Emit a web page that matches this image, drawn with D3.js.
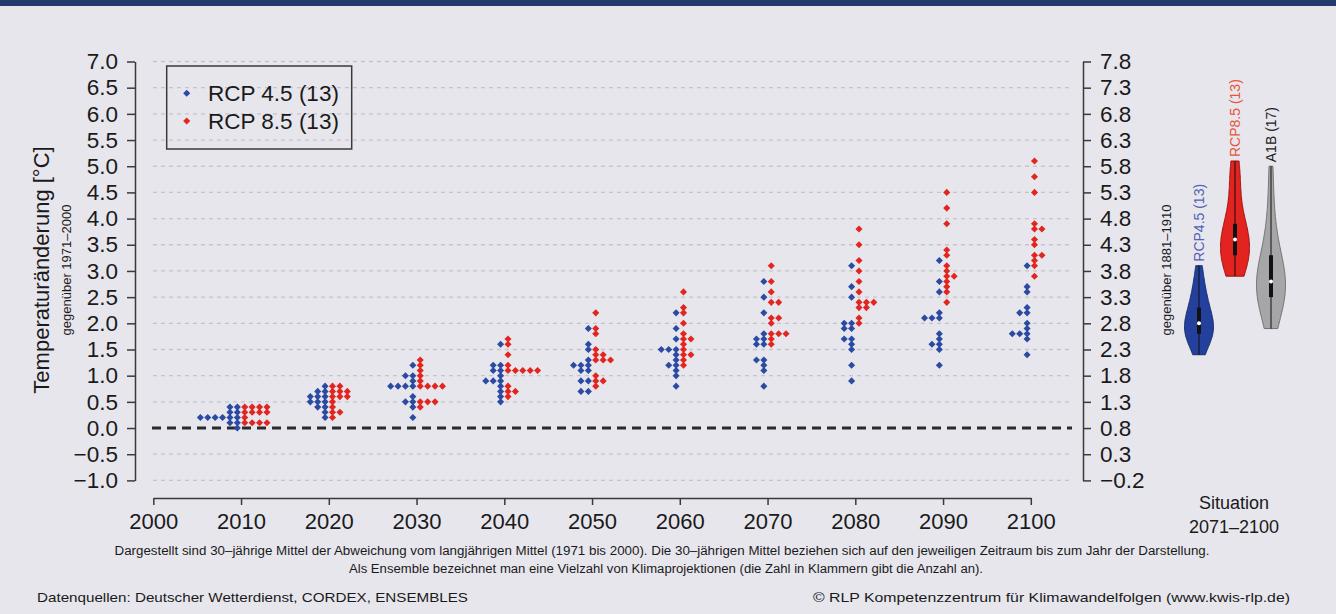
<!DOCTYPE html>
<html>
<head>
<meta charset="utf-8">
<script src="https://cdn.jsdelivr.net/npm/d3@7"></script>
<style>
  body { margin: 0; background: #e7e6ed; }
  svg { display: block; font-family: "Liberation Sans", Arial, Helvetica, sans-serif; }
</style>
</head>
<body>
<svg id="chart"></svg>
<script>
// decades shown on the x axis (30-year means ending in that year)
var years = [2010, 2020, 2030, 2040, 2050, 2060, 2070, 2080, 2090, 2100];

// RCP 4.5, 13 models per decade
var rcp45 = [
  [0.4, 0.4, 0.3, 0.3, 0.2, 0.2, 0.2, 0.2, 0.2, 0.2, 0.1, 0.1, 0.0],
  [0.8, 0.7, 0.7, 0.6, 0.6, 0.6, 0.5, 0.5, 0.5, 0.4, 0.4, 0.3, 0.2],
  [1.2, 1.0, 1.0, 0.9, 0.8, 0.8, 0.8, 0.8, 0.6, 0.5, 0.5, 0.4, 0.2],
  [1.6, 1.2, 1.2, 1.1, 1.1, 1.0, 0.9, 0.9, 0.9, 0.8, 0.7, 0.6, 0.5],
  [1.9, 1.6, 1.5, 1.3, 1.2, 1.2, 1.2, 1.1, 1.1, 0.9, 0.9, 0.7, 0.7],
  [2.2, 1.9, 1.7, 1.5, 1.5, 1.5, 1.4, 1.3, 1.2, 1.2, 1.1, 1.0, 0.8],
  [2.8, 2.5, 2.2, 1.8, 1.7, 1.7, 1.6, 1.6, 1.3, 1.3, 1.2, 1.1, 0.8],
  [3.1, 2.7, 2.5, 2.0, 2.0, 1.9, 1.9, 1.7, 1.7, 1.6, 1.5, 1.2, 0.9],
  [3.2, 2.8, 2.6, 2.2, 2.1, 2.1, 2.1, 1.8, 1.7, 1.6, 1.6, 1.5, 1.2],
  [3.1, 2.7, 2.6, 2.3, 2.2, 2.2, 2.0, 1.9, 1.8, 1.8, 1.8, 1.7, 1.4]
];

// RCP 8.5, 13 models per decade
var rcp85 = [
  [0.4, 0.4, 0.4, 0.4, 0.3, 0.3, 0.3, 0.3, 0.2, 0.1, 0.1, 0.1, 0.1],
  [0.8, 0.8, 0.7, 0.7, 0.7, 0.6, 0.6, 0.6, 0.5, 0.4, 0.3, 0.3, 0.2],
  [1.3, 1.2, 1.1, 1.0, 0.9, 0.8, 0.8, 0.8, 0.8, 0.5, 0.5, 0.5, 0.4],
  [1.7, 1.6, 1.4, 1.2, 1.1, 1.1, 1.1, 1.1, 1.1, 0.8, 0.7, 0.7, 0.6],
  [2.2, 1.9, 1.8, 1.5, 1.4, 1.4, 1.3, 1.3, 1.3, 1.0, 0.9, 0.9, 0.8],
  [2.6, 2.3, 2.2, 2.0, 1.8, 1.7, 1.7, 1.6, 1.5, 1.4, 1.4, 1.3, 1.2],
  [3.1, 2.8, 2.6, 2.4, 2.4, 2.1, 2.1, 2.0, 1.8, 1.8, 1.8, 1.7, 1.6],
  [3.8, 3.5, 3.2, 3.0, 2.8, 2.6, 2.4, 2.4, 2.4, 2.3, 2.3, 2.1, 2.0],
  [4.5, 4.2, 3.9, 3.4, 3.3, 3.1, 3.0, 2.9, 2.9, 2.8, 2.7, 2.6, 2.4],
  [5.1, 4.8, 4.5, 3.9, 3.8, 3.8, 3.6, 3.5, 3.3, 3.3, 3.2, 3.1, 2.9]
];

// A1B ensemble (17), 2071-2100
var a1b = [1.9, 2.1, 2.3, 2.4, 2.5, 2.6, 2.7, 2.8, 2.8, 2.9, 3.0, 3.1, 3.3, 3.5, 3.8, 4.3, 5.0];

var xTicks = [2000, 2010, 2020, 2030, 2040, 2050, 2060, 2070, 2080, 2090, 2100];
var yTicks = [-1.0, -0.5, 0.0, 0.5, 1.0, 1.5, 2.0, 2.5, 3.0, 3.5, 4.0, 4.5, 5.0, 5.5, 6.0, 6.5, 7.0];
var rightOffset = 0.8; // 1971-2000 vs 1881-1910

var violinNames = ["RCP4.5 (13)", "RCP8.5 (13)", "A1B (17)"];

var W = 1336, H = 614;
var blue = "#2b4aa2", red = "#e2261f";

var svg = d3.select("#chart").attr("width", W).attr("height", H);

svg.append("rect").attr("width", W).attr("height", H).attr("fill", "#e7e6ed");
svg.append("rect").attr("width", W).attr("height", 6).attr("fill", "#243a6d");

var x = d3.scaleLinear().domain([2000, 2100]).range([153.3, 1030.8]);
var y = d3.scaleLinear().domain([-1, 7]).range([480.4, 61.5]);

// grid lines
svg.append("g").selectAll("line")
  .data(yTicks.filter(function(d) { return d !== 0; }))
  .enter().append("line")
  .attr("x1", 153).attr("x2", 1071)
  .attr("y1", function(d) { return y(d); })
  .attr("y2", function(d) { return y(d); })
  .attr("stroke", "#c5c4cc")
  .attr("stroke-width", 1.3)
  .attr("stroke-dasharray", "4,4");

svg.append("line")
  .attr("x1", 152).attr("x2", 1072)
  .attr("y1", y(0)).attr("y2", y(0))
  .attr("stroke", "#2a2a2a")
  .attr("stroke-width", 3)
  .attr("stroke-dasharray", "9,6");

// axes
var fmt = d3.format(".1f");

function styleAxis(g, size) {
  g.selectAll("path, line").attr("stroke", "#3a3a3a").attr("stroke-width", 1.5);
  g.selectAll("text").attr("font-size", size).attr("fill", "#1a1a1a")
    .attr("font-family", "'Liberation Sans', Arial, Helvetica, sans-serif");
}

var gL = svg.append("g").attr("transform", "translate(135,0)")
  .call(d3.axisLeft(y).tickValues(yTicks).tickFormat(fmt).tickSize(8).tickSizeOuter(0).tickPadding(9));
styleAxis(gL, 22.5);

var gR = svg.append("g").attr("transform", "translate(1083,0)")
  .call(d3.axisRight(y).tickValues(yTicks)
    .tickFormat(function(d) { return fmt(d + rightOffset); })
    .tickSize(8).tickSizeOuter(0).tickPadding(9));
styleAxis(gR, 22.5);

var gX = svg.append("g").attr("transform", "translate(0,498)")
  .call(d3.axisBottom(x).tickValues(xTicks).tickFormat(d3.format("d")).tickSize(7).tickSizeOuter(0).tickPadding(8));
styleAxis(gX, 22);

// axis titles
svg.append("text")
  .attr("transform", "translate(41,270) rotate(-90)")
  .attr("text-anchor", "middle").attr("dy", "0.35em")
  .attr("font-size", 22).attr("fill", "#1a1a1a")
  .text("Temperaturänderung [°C]");

svg.append("text")
  .attr("transform", "translate(66,270) rotate(-90)")
  .attr("text-anchor", "middle").attr("dy", "0.35em")
  .attr("font-size", 13).attr("fill", "#1a1a1a")
  .text("gegenüber 1971–2000");

svg.append("text")
  .attr("transform", "translate(1166,270) rotate(-90)")
  .attr("text-anchor", "middle").attr("dy", "0.35em")
  .attr("font-size", 13).attr("fill", "#1a1a1a")
  .text("gegenüber 1881–1910");

// stacked dots: blue goes left of the decade, red goes right
function stackDots(values, year, side) {
  var counts = {};
  return values.map(function(v) {
    var key = v.toFixed(1);
    var k = counts[key] || 0;
    counts[key] = k + 1;
    return { year: year, value: v, k: k, side: side };
  });
}

var dots = [];
years.forEach(function(yr, i) {
  dots = dots.concat(stackDots(rcp45[i], yr, -1));
  dots = dots.concat(stackDots(rcp85[i], yr, 1));
});

var diamond = d3.symbol().type(d3.symbolDiamond2).size(32);

svg.append("g").selectAll("path")
  .data(dots)
  .enter().append("path")
  .attr("d", diamond)
  .attr("transform", function(d) {
    var cx = x(d.year) + d.side * (3.7 + d.k * 7.4);
    return "translate(" + cx + "," + y(d.value) + ")";
  })
  .attr("fill", function(d) { return d.side < 0 ? blue : red; });

// legend
var legend = svg.append("g");
legend.append("rect")
  .attr("x", 166.7).attr("y", 66).attr("width", 185).attr("height", 83)
  .attr("fill", "none").attr("stroke", "#3a3a3a").attr("stroke-width", 1.5);
[["RCP 4.5 (13)", blue], ["RCP 8.5 (13)", red]].forEach(function(item, i) {
  var ly = 93.3 + i * 27.7;
  legend.append("path").attr("d", diamond).attr("fill", item[1])
    .attr("transform", "translate(186.7," + ly + ")");
  legend.append("text").attr("x", 208).attr("y", ly).attr("dy", "0.35em")
    .attr("font-size", 22.5).attr("fill", "#1a1a1a").text(item[0]);
});

// violins for 2071-2100
var vx = d3.scalePoint().domain(violinNames).range([1199, 1271]);
var violinData = [
  { name: violinNames[0], values: rcp45[9], fill: "#22409c", stroke: "#182c6c", label: "#5263b4" },
  { name: violinNames[1], values: rcp85[9], fill: "#e2231f", stroke: "#9e1410", label: "#e8553a" },
  { name: violinNames[2], values: a1b, fill: "#a6a6a8", stroke: "#727274", label: "#222222" }
];

function gauss(u) { return Math.exp(-0.5 * u * u); }
function hinge(a) {
  var n = a.length;
  return [d3.median(a.slice(0, Math.ceil(n / 2))), d3.median(a), d3.median(a.slice(Math.floor(n / 2)))];
}

violinData.forEach(function(v) {
  var s = v.values.slice().sort(d3.ascending);
  var lo = s[0], hi = s[s.length - 1];
  var h = d3.deviation(s) * Math.pow(4 / (3 * s.length), 0.2);
  var pts = d3.range(0, 101).map(function(i) {
    var t = lo + (hi - lo) * i / 100;
    return { t: t, d: d3.sum(s, function(xi) { return gauss((t - xi) / h); }) };
  });
  var wScale = d3.scaleLinear().domain([0, d3.max(pts, function(p) { return p.d; })]).range([0, 14.5]);
  var cx = vx(v.name);
  var area = d3.area()
    .y(function(p) { return y(p.t); })
    .x0(function(p) { return cx - wScale(p.d); })
    .x1(function(p) { return cx + wScale(p.d); });
  svg.append("path").datum(pts).attr("d", area)
    .attr("fill", v.fill).attr("stroke", v.stroke).attr("stroke-width", 1);

  var q = hinge(s);
  svg.append("line").attr("x1", cx).attr("x2", cx).attr("y1", y(lo)).attr("y2", y(hi))
    .attr("stroke", "#111").attr("stroke-width", 1);
  svg.append("rect").attr("x", cx - 2).attr("width", 4)
    .attr("y", y(q[2])).attr("height", y(q[0]) - y(q[2])).attr("fill", "#111");
  svg.append("circle").attr("cx", cx).attr("cy", y(q[1])).attr("r", 2).attr("fill", "#fff");

  svg.append("text")
    .attr("transform", "translate(" + cx + "," + (y(hi) - 4) + ") rotate(-90)")
    .attr("dy", "0.35em").attr("font-size", 14).attr("fill", v.label)
    .text(v.name);
});

svg.append("text").attr("x", 1234).attr("y", 503).attr("dy", "0.35em")
  .attr("text-anchor", "middle").attr("font-size", 18).attr("fill", "#1a1a1a").text("Situation");
svg.append("text").attr("x", 1234).attr("y", 527).attr("dy", "0.35em")
  .attr("text-anchor", "middle").attr("font-size", 18).attr("fill", "#1a1a1a").text("2071–2100");

// footer
function note(txt, xx, yy, size, len, anchor) {
  svg.append("text").attr("x", xx).attr("y", yy).attr("dy", "0.35em")
    .attr("text-anchor", anchor).attr("font-size", size).attr("fill", "#1a1a1a")
    .attr("textLength", len).attr("lengthAdjust", "spacingAndGlyphs")
    .text(txt);
}
note("Dargestellt sind 30–jährige Mittel der Abweichung vom langjährigen Mittel (1971 bis 2000). Die 30–jährigen Mittel beziehen sich auf den jeweiligen Zeitraum bis zum Jahr der Darstellung.",
  662, 551, 12, 1095, "middle");
note("Als Ensemble bezeichnet man eine Vielzahl von Klimaprojektionen (die Zahl in Klammern gibt die Anzahl an).",
  666, 569, 12, 634, "middle");
note("Datenquellen: Deutscher Wetterdienst, CORDEX, ENSEMBLES", 37, 597, 13.5, 431, "start");
note("© RLP Kompetenzzentrum für Klimawandelfolgen (www.kwis-rlp.de)", 813, 597, 13.5, 477, "start");
</script>
</body>
</html>
